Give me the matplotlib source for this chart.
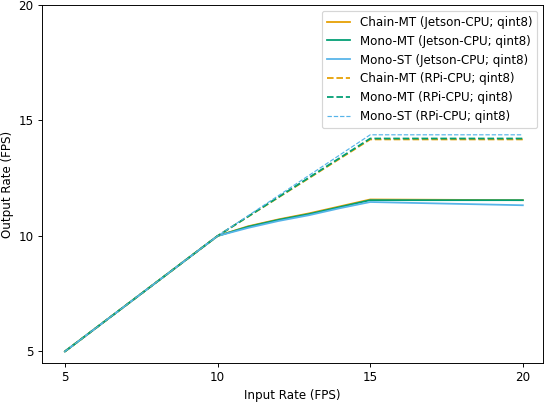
import matplotlib
matplotlib.use("Agg")
import matplotlib.pyplot as plt

# input rates (FPS)
x_jetson = [5, 10, 11, 12, 13, 14, 15, 20]
x_rpi = [5, 10, 15, 20]

# output rates (FPS)
chain_mt_jetson = [5, 10, 10.42, 10.72, 10.98, 11.28, 11.58, 11.55]
mono_mt_jetson = [5, 10, 10.40, 10.70, 10.95, 11.25, 11.55, 11.55]
mono_st_jetson = [5, 10, 10.35, 10.65, 10.90, 11.20, 11.47, 11.33]

chain_mt_rpi = [5, 10, 14.18, 14.18]
mono_mt_rpi = [5, 10, 14.22, 14.22]
mono_st_rpi = [5, 10, 14.38, 14.38]

labels = ["Chain-MT (Jetson-CPU; qint8)", "Mono-MT (Jetson-CPU; qint8)",
          "Mono-ST (Jetson-CPU; qint8)", "Chain-MT (RPi-CPU; qint8)",
          "Mono-MT (RPi-CPU; qint8)", "Mono-ST (RPi-CPU; qint8)"]
colors = ["#E69F00", "#009E73", "#56B4E9"]

dpi = 85.3
fig = plt.figure(figsize=(546 / dpi, 402 / dpi), dpi=dpi)
ax = fig.add_axes([42 / 546, 39 / 402, 501 / 546, 358 / 402])

for y, c, lab in zip([chain_mt_jetson, mono_mt_jetson, mono_st_jetson], colors, labels[:3]):
    ax.plot(x_jetson, y, color=c, linestyle="-", label=lab)
for y, c, lab, lw in zip([chain_mt_rpi, mono_mt_rpi, mono_st_rpi], colors, labels[3:], [1.5, 1.5, 1.0]):
    ax.plot(x_rpi, y, color=c, linestyle="--", linewidth=lw, label=lab)

ax.set_xlim(4.25, 20.66)
ax.set_ylim(4.5, 20)
ax.set_xticks([5, 10, 15, 20])
ax.set_yticks([5, 10, 15, 20])
ax.set_xlabel("Input Rate (FPS)")
ax.set_ylabel("Output Rate (FPS)")
ax.legend(loc="upper right")

fig.savefig("out.png", dpi=dpi)
